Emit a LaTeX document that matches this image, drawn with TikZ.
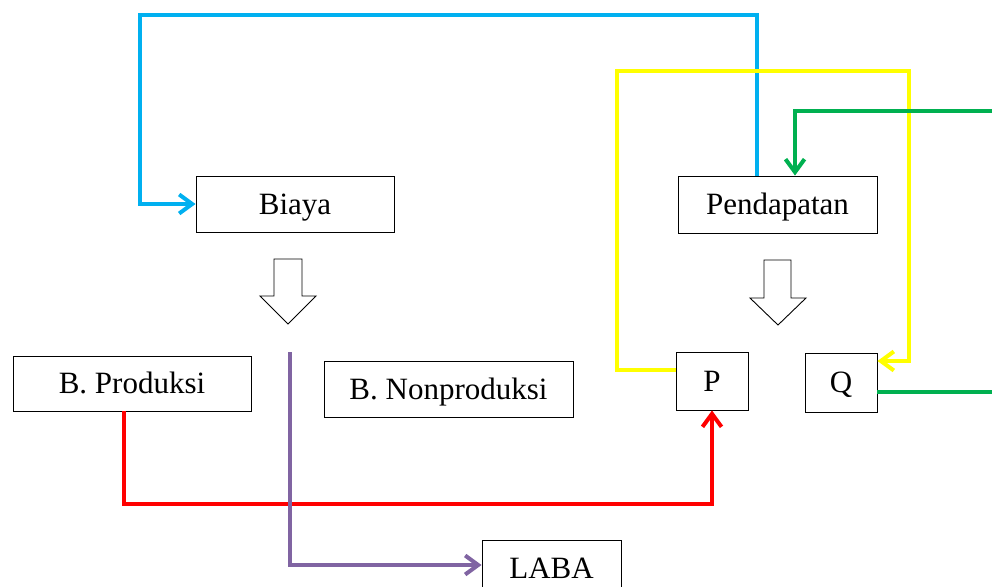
\documentclass[tikz,border=0pt]{standalone}
\usepackage{fontspec}
\setmainfont{Liberation Serif}
\usetikzlibrary{arrows.meta}
\definecolor{cblue}{RGB}{0,176,240}
\definecolor{cyellow}{RGB}{255,255,0}
\definecolor{cgreen}{RGB}{0,176,80}
\definecolor{cred}{RGB}{255,0,0}
\definecolor{cpurple}{RGB}{128,100,162}
\begin{document}
\begin{tikzpicture}[x=1pt,y=-1pt,
  box/.style={draw, line width=0.9pt, inner sep=0pt, font=\fontsize{31}{37}\selectfont, text height=20.5pt, text depth=0pt},
  conn/.style={line width=4pt, line join=miter},
  tip/.style={-{Straight Barb[length=13pt,width=19pt,line width=4pt]}},
  blockarrow/.style={draw, line width=0.9pt, fill=white}]
\useasboundingbox (0,0) rectangle (992,586);
\node[box, minimum width=198pt, minimum height=56pt] (biaya) at (295,204) {Biaya};
\node[box, minimum width=199pt, minimum height=57pt] (pend) at (777.5,204.5) {Pendapatan};
\node[box, minimum width=238pt, minimum height=55pt] (bprod) at (132,383.5) {B. Produksi};
\node[box, minimum width=249pt, minimum height=56pt] (bnon) at (448.5,389) {B. Nonproduksi};
\node[box, minimum width=72pt, minimum height=58pt] (p) at (712,381) {P};
\node[box, minimum width=72pt, minimum height=59pt] (q) at (841,382.5) {Q};
\node[box, minimum width=139pt, minimum height=57pt] (laba) at (551.5,568.5) {LABA};
% block arrows
\draw[blockarrow] (274,259) -- (302,259) -- (302,296) -- (316,296) -- (288,324) -- (260,296) -- (274,296) -- cycle;
\draw[blockarrow] (764,260) -- (791,260) -- (791,298) -- (806,298) -- (778,325) -- (750,298) -- (764,298) -- cycle;
% coordinates
\coordinate (bl1) at (757,15);
\coordinate (bl2) at (140,15);
\coordinate (y1) at (617,71);
\coordinate (y2) at (909,71);
\coordinate (gq) at (992,392);
\coordinate (gs) at (992,111);
\coordinate (r1) at (124,504);
\coordinate (pu0) at (290,352);
% blue
\draw[conn, cblue, tip] (pend.north -| bl1) -- (bl1) -- (bl2) |- (biaya.west);
% yellow
\draw[conn, cyellow, tip] (p.west |- 0,370) -| (y1) -- (y2) |- (q.east |- 0,361);
% green
\draw[conn, cgreen] (q.east |- gq) -- (gq);
\draw[conn, cgreen, tip] (gs) -| (pend.north -| 795,0);
% red
\draw[conn, cred, tip] (bprod.south -| r1) |- (r1 -| p.south) -- (p.south);
% purple
\draw[conn, cpurple, tip] (pu0) |- (laba.west |- 0,565);
\end{tikzpicture}
\end{document}
